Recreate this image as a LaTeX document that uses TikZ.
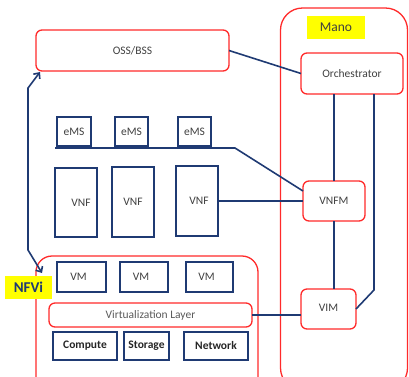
\documentclass[tikz,border=0pt]{standalone}
\usepackage{fontspec}
\setmainfont{Carlito}
\usetikzlibrary{arrows.meta,calc}
\definecolor{redc}{HTML}{FF2A2A}
\definecolor{navy}{HTML}{1F3A73}
\definecolor{txt}{HTML}{404040}
\definecolor{yel}{HTML}{FFFF00}
\tikzset{
  redbox/.style={draw=redc,line width=1.3pt,rounded corners=6pt,inner sep=0pt,outer sep=0pt,text=txt,font=\fontsize{11.5}{13}\selectfont},
  navybox/.style={draw=navy,line width=1.5pt,inner sep=0pt,outer sep=0pt,text=txt,font=\fontsize{11.5}{13}\selectfont},
  hwbox/.style={navybox,font=\fontsize{11.5}{13}\selectfont\bfseries,text=black!85},
  conn/.style={draw=navy,line width=1.6pt},
  yellbl/.style={fill=yel,inner sep=0pt,outer sep=0pt}
}
\begin{document}
\begin{tikzpicture}[x=1pt,y=-1pt]
\useasboundingbox (0,0) rectangle (409,376);
\clip (0,0) rectangle (409,376);
% Mano container
\node[redbox,rounded corners=22pt,minimum width=127pt,minimum height=382pt] (mano) at (344,199) {};
\node[yellbl,minimum width=58pt,minimum height=23pt,text=txt,font=\fontsize{13.5}{15}\selectfont] (manolbl) at (336,27.5) {Mano};
\node[redbox,minimum width=102pt,minimum height=41pt] (orch) at (352,73.5) {Orchestrator};
\node[redbox,minimum width=62pt,minimum height=40pt] (vnfm) at (334,201) {VNFM};
\node[redbox,minimum width=55pt,minimum height=40pt] (vim) at (328.5,309) {\raisebox{3pt}{VIM}};
% OSS
\node[redbox,minimum width=193pt,minimum height=41pt] (oss) at (132.5,50.5) {OSS/BSS};
% eMS
\node[navybox,minimum width=34pt,minimum height=29pt] (ems1) at (74,131.5) {eMS};
\node[navybox,minimum width=33pt,minimum height=29pt] (ems2) at (131.5,131.5) {eMS};
\node[navybox,minimum width=33pt,minimum height=29pt] (ems3) at (194.5,131.5) {eMS};
\coordinate (busL) at (55,148);
\coordinate (busR) at (235,148);
% VNF
\node[navybox,minimum width=42pt,minimum height=69pt] (vnf1) at (76,202.5) {\hspace*{10pt}VNF};
\node[navybox,minimum width=42pt,minimum height=70pt] (vnf2) at (133,202) {VNF};
\node[navybox,minimum width=42pt,minimum height=70pt] (vnf3) at (197,201) {\hspace*{4pt}VNF};
% NFVi
\node[redbox,rounded corners=16pt,minimum width=222pt,minimum height=139pt] (nfvi) at (147,325.5) {};
\node[yellbl,minimum width=47pt,minimum height=23pt,text=navy,font=\fontsize{15}{17}\selectfont\bfseries] (nfvilbl) at (28.5,287.5) {NFVi};
\node[navybox,minimum width=49pt,minimum height=30pt] (vm1) at (81.5,277) {\hspace*{-6pt}VM};
\node[navybox,minimum width=48pt,minimum height=30pt] (vm2) at (144,277) {\hspace*{-6pt}VM};
\node[navybox,minimum width=47pt,minimum height=30pt] (vm3) at (209.5,277) {\hspace*{-6pt}VM};
\node[redbox,minimum width=203pt,minimum height=24pt,text=black!65] (virt) at (150.5,315) {Virtualization Layer};
\node[hwbox,minimum width=64pt,minimum height=28pt] (compute) at (85,346) {Compute};
\node[hwbox,minimum width=45pt,minimum height=28pt] (storage) at (146.5,346) {Storage};
\node[hwbox,minimum width=64pt,minimum height=28pt] (network) at (216,346) {\raisebox{2pt}{Network}};
% connectors
\draw[conn] (oss.east) -- (orch.west);
\draw[conn] (vnfm.north) -- (vnfm.north |- orch.south);
\draw[conn] (vnfm.south) -- (vnfm.south |- vim.north);
\coordinate (ovtop) at ($(orch.south)+(22,0)$);
\coordinate (ovbend) at ($(ovtop)+(0,196)$);
\draw[conn] (ovtop) -- (ovbend) -- (vim.east);
\draw[conn] (busL) -- (busR) -- ($(vnfm.west)!0.5!(vnfm.north west)$);
\draw[conn] (vnf3.east) -- (vnfm.west);
\draw[conn] (virt.east) -- (virt.east -| vim.west);
\coordinate (arrA) at (28,88);
\coordinate (arrB) at (28,250);
\draw[conn,{Straight Barb[length=4.5pt,width=8pt,line width=1.6pt]}-{Straight Barb[length=4.5pt,width=8pt,line width=1.6pt]}]
  ($(oss.south west)+(4,1)$) -- (arrA) -- (arrB) -- ($(nfvi.north west)+(6,17)$);
\end{tikzpicture}
\end{document}
